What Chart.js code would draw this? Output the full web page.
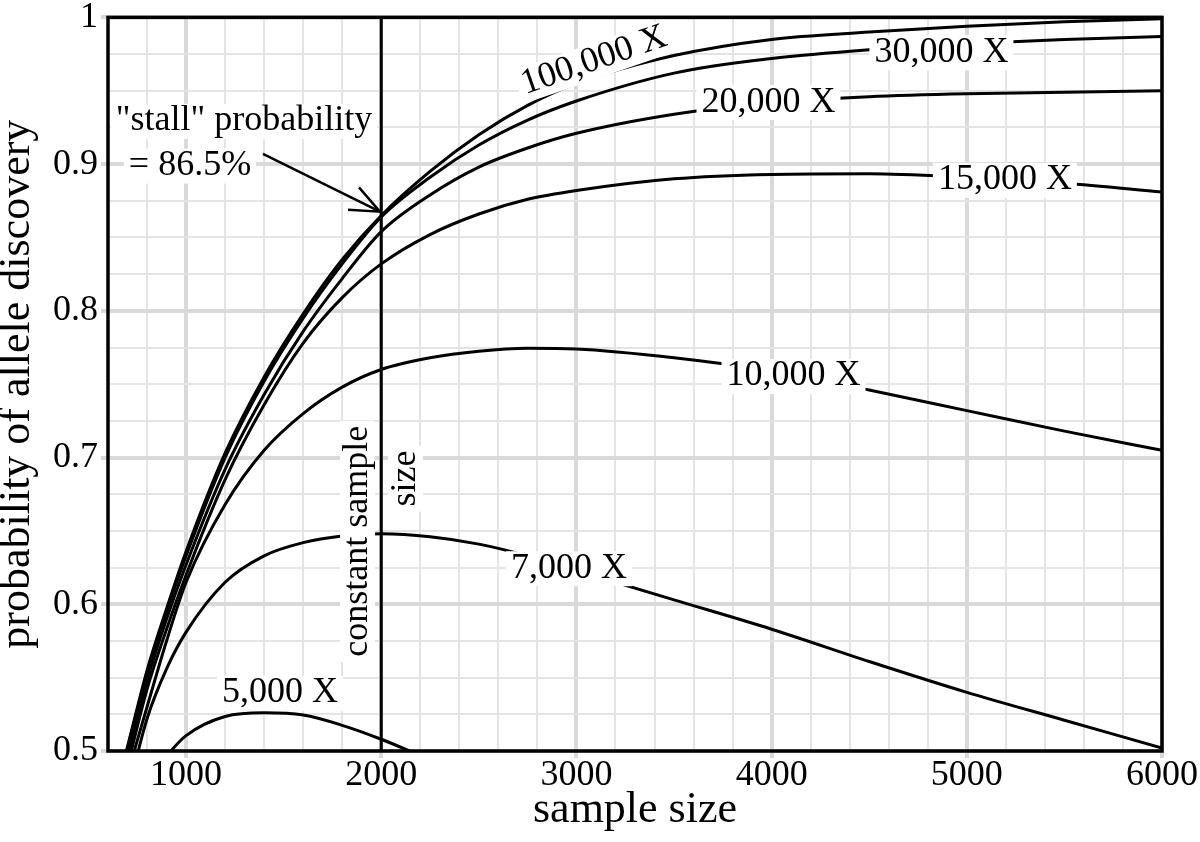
<!DOCTYPE html>
<html>
<head>
<meta charset="utf-8">
<script src="https://cdn.jsdelivr.net/npm/chart.js@4.4.1/dist/chart.umd.min.js"></script>
<style>
  html, body { margin: 0; padding: 0; background: #fff; }
  #wrap { width: 1200px; height: 842px; }
</style>
</head>
<body>
<div id="wrap"><canvas id="chart" width="1200" height="842"></canvas></div>
<script>
// shared sample sizes (x) for every coverage curve
const sampleSizes = [650, 700, 800, 900, 1000, 1200, 1400, 1600, 1800, 2000, 2250, 2500, 2750, 3000, 3500, 4000, 4500, 5000, 5500, 6000];

// probability of allele discovery, one list per coverage
const cov100k = [0.478, 0.503, 0.555, 0.597, 0.636, 0.703, 0.755, 0.798, 0.835, 0.865, 0.895, 0.920, 0.940, 0.955, 0.974, 0.985, 0.990, 0.994, 0.997, 0.999];
const cov30k  = [0.477, 0.502, 0.553, 0.595, 0.633, 0.700, 0.752, 0.795, 0.832, 0.864, 0.891, 0.913, 0.930, 0.943, 0.962, 0.972, 0.978, 0.982, 0.985, 0.987];
const cov20k  = [0.472, 0.497, 0.548, 0.590, 0.627, 0.692, 0.743, 0.786, 0.822, 0.854, 0.879, 0.898, 0.911, 0.921, 0.934, 0.942, 0.946, 0.948, 0.949, 0.950];
const cov15k  = [0.465, 0.490, 0.542, 0.583, 0.620, 0.685, 0.736, 0.778, 0.809, 0.832, 0.852, 0.866, 0.876, 0.882, 0.890, 0.893, 0.8935, 0.891, 0.887, 0.881];
const cov10k  = [0.455, 0.483, 0.530, 0.575, 0.615, 0.668, 0.705, 0.730, 0.748, 0.760, 0.768, 0.7725, 0.7745, 0.774, 0.768, 0.759, 0.746, 0.732, 0.718, 0.705];
const cov7k   = [0.440, 0.470, 0.522, 0.556, 0.581, 0.615, 0.633, 0.642, 0.6465, 0.648, 0.646, 0.641, 0.633, 0.623, 0.603, 0.583, 0.561, 0.540, 0.521, 0.502];
const cov5k   = [null, null, null, 0.497, 0.5105, 0.5235, 0.526, 0.5245, 0.5175, 0.508, 0.494, null, null, null, null, null, null, null, null, null];

const coverageNames = ["100,000 X", "30,000 X", "20,000 X", "15,000 X", "10,000 X", "7,000 X", "5,000 X"];
const coverageSeries = [cov100k, cov30k, cov20k, cov15k, cov10k, cov7k, cov5k];

const constantSampleSize = 2000;

// axes
const xMin = 600, xMax = 6000, xMinorStep = 200;
const yMin = 0.5, yMax = 1, yMinorStep = 0.025;
const xMajorTicks = [1000, 2000, 3000, 4000, 5000, 6000];
const yMajorTicks = [0.5, 0.6, 0.7, 0.8, 0.9, 1];

// text notes placed in data coordinates
const notes = [
  { text: "100,000 X", x: 3090, y: 0.9705, rot: -19 },
  { text: "30,000 X", x: 4870, y: 0.9762 },
  { text: "20,000 X", x: 3984, y: 0.9423 },
  { text: "15,000 X", x: 5195, y: 0.8893 },
  { text: "10,000 X", x: 4112, y: 0.7556 },
  { text: "7,000 X", x: 2962, y: 0.6246 },
  { text: "5,000 X", x: 1481, y: 0.5397 },
  { text: "\"stall\" probability", x: 1297, y: 0.9295 },
  { text: "= 86.5%", x: 1020, y: 0.899 },
  { text: "constant sample", x: 1876, y: 0.6429, rot: -90 },
  { text: "size", x: 2122, y: 0.6857, rot: -90 }
];
const arrowFrom = [1394, 0.907];
const arrowTo = [1993, 0.8676];

const serif = "'Liberation Serif', 'Times New Roman', serif";
const majorGrid = "#d9d9d9", minorGrid = "#e4e4e4";

const xGrid = [];
for (let v = xMin; v <= xMax; v += xMinorStep) xGrid.push(v);
const yGrid = [];
for (let i = 0; i <= Math.round((yMax - yMin) / yMinorStep); i++) yGrid.push(+(yMin + i * yMinorStep).toFixed(3));

const isMajorX = v => xMajorTicks.includes(v);
const isMajorY = v => yMajorTicks.some(m => Math.abs(m - v) < 1e-9);

Chart.defaults.font.family = serif;
Chart.defaults.color = "#000";

const overlay = {
  id: "overlay",
  afterDatasetsDraw(chart) {
    const { ctx, chartArea: a, scales: { x, y } } = chart;
    ctx.save();
    ctx.font = "36px " + serif;
    ctx.textAlign = "center";
    ctx.textBaseline = "middle";
    notes.forEach(n => {
      ctx.save();
      ctx.translate(x.getPixelForValue(n.x), y.getPixelForValue(n.y));
      ctx.rotate((n.rot || 0) * Math.PI / 180);
      const w = ctx.measureText(n.text).width + 10;
      ctx.fillStyle = "#fff";
      ctx.fillRect(-w / 2, -17, w, 35);
      ctx.fillStyle = "#000";
      ctx.fillText(n.text, 0, 0);
      ctx.restore();
    });

    // arrow to the stall point
    const x0 = x.getPixelForValue(arrowFrom[0]), y0 = y.getPixelForValue(arrowFrom[1]);
    const x1 = x.getPixelForValue(arrowTo[0]), y1 = y.getPixelForValue(arrowTo[1]);
    const ang = Math.atan2(y1 - y0, x1 - x0), head = 32, spread = 0.4;
    ctx.strokeStyle = "#000";
    ctx.lineWidth = 2.5;
    ctx.beginPath();
    ctx.moveTo(x0, y0); ctx.lineTo(x1, y1);
    ctx.moveTo(x1 - head * Math.cos(ang - spread), y1 - head * Math.sin(ang - spread));
    ctx.lineTo(x1, y1);
    ctx.lineTo(x1 - head * Math.cos(ang + spread), y1 - head * Math.sin(ang + spread));
    ctx.stroke();

    // frame
    ctx.lineWidth = 3.5;
    ctx.strokeRect(a.left, a.top, a.right - a.left, a.bottom - a.top);
    ctx.restore();
  }
};

const datasets = coverageSeries.map((vals, k) => ({
  label: coverageNames[k],
  data: sampleSizes.map((s, i) => ({ x: s, y: vals[i] })),
  borderColor: "#000",
  borderWidth: 3,
  pointRadius: 0,
  fill: false,
  cubicInterpolationMode: "monotone"
}));
datasets.push({
  label: "constant sample size",
  data: [{ x: constantSampleSize, y: yMin }, { x: constantSampleSize, y: yMax }],
  borderColor: "#000",
  borderWidth: 3,
  pointRadius: 0,
  fill: false
});

new Chart(document.getElementById("chart"), {
  type: "line",
  data: { datasets },
  options: {
    responsive: false,
    animation: false,
    layout: { padding: { top: 15, right: 38, left: 0, bottom: 0 } },
    plugins: { legend: { display: false }, tooltip: { enabled: false } },
    scales: {
      x: {
        type: "linear", min: xMin, max: xMax,
        afterBuildTicks: s => { s.ticks = xGrid.map(v => ({ value: v })); },
        afterFit: s => { s.height = 91; },
        ticks: {
          autoSkip: false, maxRotation: 0, padding: 0,
          font: { size: 36, lineHeight: 0.95 },
          callback: v => isMajorX(v) ? String(v) : ""
        },
        grid: {
          tickLength: 7,
          color: c => c.tick && isMajorX(c.tick.value) ? majorGrid : minorGrid,
          lineWidth: c => c.tick && isMajorX(c.tick.value) ? 4 : 2,
          tickColor: c => c.tick && isMajorX(c.tick.value) ? majorGrid : "rgba(0,0,0,0)"
        },
        border: { display: false },
        title: { display: true, text: "sample size", font: { size: 44 }, padding: { top: 0, bottom: 5 } }
      },
      y: {
        type: "linear", min: yMin, max: yMax,
        afterBuildTicks: s => { s.ticks = yGrid.map(v => ({ value: v })); },
        afterFit: s => { s.width = 108; },
        ticks: {
          autoSkip: false, padding: 3,
          font: { size: 36, lineHeight: 0.8 },
          callback: v => isMajorY(v) ? String(+v.toFixed(2)) : ""
        },
        grid: {
          tickLength: 7,
          color: c => c.tick && isMajorY(c.tick.value) ? majorGrid : minorGrid,
          lineWidth: c => c.tick && isMajorY(c.tick.value) ? 4 : 2,
          tickColor: c => c.tick && isMajorY(c.tick.value) ? majorGrid : "rgba(0,0,0,0)"
        },
        border: { display: false },
        title: { display: true, text: "probability of allele discovery", font: { size: 44, lineHeight: 0.8 }, padding: 0 }
      }
    }
  },
  plugins: [overlay]
});
</script>
</body>
</html>
